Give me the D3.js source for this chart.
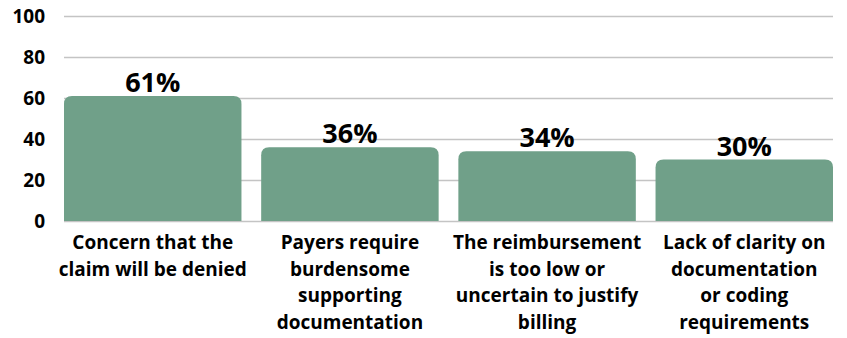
<!DOCTYPE html>
<html>
<head>
<meta charset="utf-8">
<script src="https://cdn.jsdelivr.net/npm/d3@7"></script>
<style>
  html, body { margin: 0; padding: 0; background: #fff; }
  svg { display: block; font-family: "Open Sans", sans-serif; }
</style>
</head>
<body>
<svg id="chart"></svg>
<script>
// values
const categories = [
  ["Concern that the", "claim will be denied"],
  ["Payers require", "burdensome", "supporting", "documentation"],
  ["The reimbursement", "is too low or", "uncertain to justify", "billing"],
  ["Lack of clarity on", "documentation", "or coding", "requirements"]
]
const values = [61, 36, 34, 30]
const yTicks = [0, 20, 40, 60, 80, 100]

const width = 847
const height = 338
const margin = {top: 16, right: 14, bottom: 117, left: 64}
const barColor = "#70a089"
const gridColor = "#c4c4c4"

const svg = d3.select("#chart")
  .attr("width", width)
  .attr("height", height)

const x = d3.scaleBand()
  .domain(d3.range(values.length))
  .range([margin.left, width - margin.right])
  .paddingInner(0.1)
  .paddingOuter(0)

const y = d3.scaleLinear()
  .domain([0, 100])
  .range([height - margin.bottom, margin.top])

// grid + y labels
svg.append("g")
  .attr("transform", `translate(${margin.left},0)`)
  .call(d3.axisLeft(y).tickValues(yTicks).tickSize(-(width - margin.right - margin.left)).tickPadding(19))
  .call(g => g.select(".domain").remove())
  .call(g => g.selectAll(".tick line").attr("stroke", gridColor).attr("stroke-width", 1.5))
  .call(g => g.selectAll(".tick text")
    .attr("fill", "#000")
    .attr("font-size", 19)
    .attr("font-weight", 700)
    .attr("font-family", "'Open Sans', sans-serif"))

// bars with rounded top corners
const r = 8
function barPath(i, v) {
  const x0 = x(i), x1 = x(i) + x.bandwidth()
  const y0 = y(0), y1 = y(v)
  return `M${x0},${y0}V${y1 + r}Q${x0},${y1} ${x0 + r},${y1}H${x1 - r}Q${x1},${y1} ${x1},${y1 + r}V${y0}Z`
}

svg.append("g")
  .selectAll("path")
  .data(values)
  .join("path")
  .attr("fill", barColor)
  .attr("d", (d, i) => barPath(i, d))

// value labels
svg.append("g")
  .selectAll("text")
  .data(values)
  .join("text")
  .attr("x", (d, i) => x(i) + x.bandwidth() / 2)
  .attr("y", d => y(d) - 4)
  .attr("text-anchor", "middle")
  .attr("font-size", 27)
  .attr("font-weight", 700)
  .attr("fill", "#000")
  .text(d => d + "%")

// category labels
const lab = svg.append("g")
  .selectAll("text")
  .data(categories)
  .join("text")
  .attr("text-anchor", "middle")
  .attr("font-size", 19)
  .attr("font-weight", 700)
  .attr("fill", "#000")
  .attr("transform", (d, i) => `translate(${x(i) + x.bandwidth() / 2},249)`)

lab.selectAll("tspan")
  .data(d => d)
  .join("tspan")
  .attr("x", 0)
  .attr("y", (d, j) => j * 26.7)
  .text(d => d)
</script>
</body>
</html>
